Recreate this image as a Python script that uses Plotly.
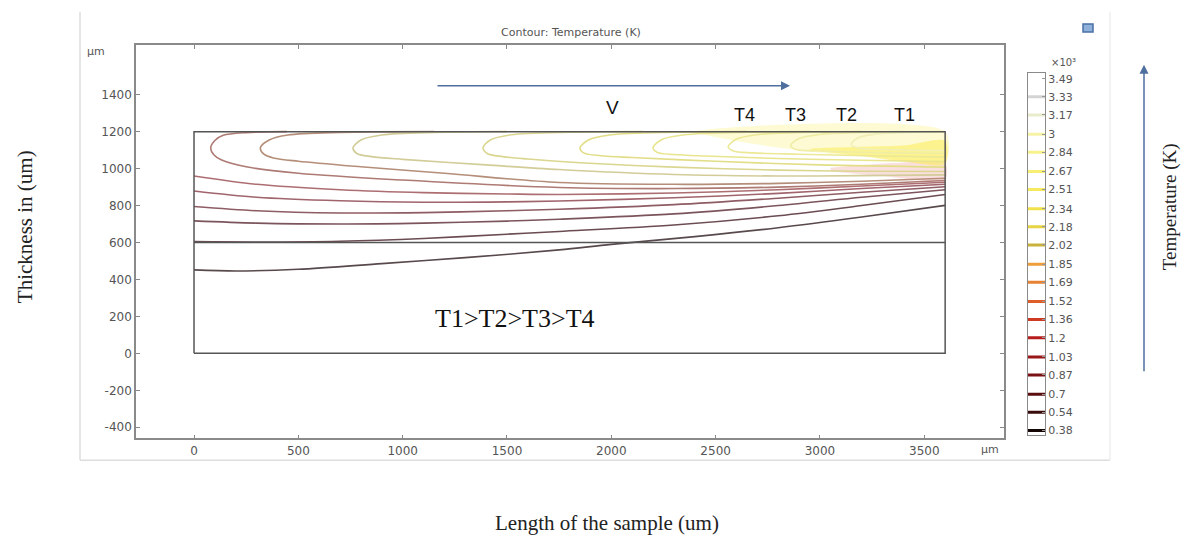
import plotly.graph_objects as go

W, H = 1188, 537

# ---------------- data ----------------
sample_length = 3600
sample_thickness = 1200
interface_y = 600

x_ticks = [0, 500, 1000, 1500, 2000, 2500, 3000, 3500]
y_ticks = [-400, -200, 0, 200, 400, 600, 800, 1000, 1200, 1400]
y_tick_text = ["-400", "-200", "0", "200", "400", "600", "800", "1000", "1200", "1400"]

levels = [0.38, 0.54, 0.7, 0.87, 1.03, 1.2, 1.36, 1.52, 1.69, 1.85,
          2.02, 2.18, 2.34, 2.51, 2.67, 2.84, 3.0, 3.17, 3.33, 3.49]
level_labels = ["0.38", "0.54", "0.7", "0.87", "1.03", "1.2", "1.36", "1.52", "1.69", "1.85",
                "2.02", "2.18", "2.34", "2.51", "2.67", "2.84", "3", "3.17", "3.33", "3.49"]
level_colors = ["#150606", "#3a0b0b", "#5a0e10", "#7a1215", "#9a1719", "#b81d1d", "#cf3a22",
                "#de5e2a", "#e78233", "#ee9f3a", "#c9b23c", "#e6d444", "#f1e24c", "#f5ea5e",
                "#f7ef74", "#f8f28c", "#f6f3a6", "#e9eccc", "#d4d4d4", "#ffffff"]

# contour lines (x in um, y in um)
o1_x = [0, 200, 500, 900, 1300, 1750, 2000, 2400, 2800, 3200, 3600]
o1_y = [452, 446, 455, 486, 518, 560, 590, 632, 680, 738, 801]
o2_x = [0, 300, 700, 1100, 1500, 1750, 2300, 2800, 3200, 3600]
o2_y = [605, 603, 607, 622, 645, 660, 695, 745, 800, 860]
o3_x = [0, 300, 700, 1100, 1500, 1750, 2300, 2800, 3200, 3600]
o3_y = [717, 705, 700, 705, 716, 726, 755, 800, 845, 886]
o4_x = [0, 300, 700, 1100, 1500, 1750, 2300, 2800, 3200, 3600]
o4_y = [795, 772, 760, 762, 772, 780, 805, 840, 872, 902]
o5_x = [0, 300, 700, 1100, 1500, 1750, 2300, 2800, 3200, 3600]
o5_y = [879, 845, 826, 818, 820, 825, 842, 866, 892, 915]
o6_x = [0, 300, 700, 1100, 1500, 1750, 2300, 2800, 3200, 3600]
o6_y = [960, 915, 886, 870, 863, 860, 868, 886, 906, 926]

c1_x = [445, 250, 140, 100, 80, 95, 130, 250, 500, 1000, 1750, 2300, 2800, 3200, 3600]
c1_y = [1200, 1195, 1180, 1152, 1112, 1075, 1048, 1010, 975, 938, 898, 892, 900, 915, 936]
c2_x = [1150, 700, 450, 360, 318, 335, 380, 500, 800, 1200, 1750, 2300, 2800, 3200, 3600]
c2_y = [1200, 1196, 1182, 1155, 1112, 1078, 1058, 1040, 1010, 975, 925, 915, 920, 932, 948]
c3_x = [1500, 1150, 900, 800, 762, 780, 850, 1000, 1400, 1750, 2300, 2800, 3200, 3600]
c3_y = [1200, 1196, 1182, 1155, 1112, 1082, 1065, 1050, 1020, 995, 968, 960, 962, 966]
c4_x = [2150, 1800, 1520, 1420, 1385, 1405, 1480, 1600, 1850, 2300, 2800, 3200, 3600]
c4_y = [1200, 1197, 1183, 1155, 1112, 1082, 1065, 1052, 1032, 1008, 992, 986, 984]
c5_x = [2650, 2300, 2000, 1890, 1850, 1870, 1950, 2100, 2500, 3000, 3600]
c5_y = [1200, 1197, 1183, 1155, 1112, 1084, 1070, 1060, 1040, 1020, 1008]
c6_x = [2950, 2650, 2350, 2240, 2200, 2220, 2300, 2450, 2800, 3200, 3600]
c6_y = [1200, 1197, 1183, 1156, 1113, 1088, 1076, 1068, 1055, 1045, 1038]
c7_x = [3200, 2950, 2700, 2600, 2560, 2585, 2680, 2900, 3300, 3600]
c7_y = [1200, 1197, 1184, 1160, 1118, 1095, 1085, 1078, 1068, 1062]
c8_x = [3400, 3200, 3000, 2900, 2860, 2885, 3000, 3300, 3600]
c8_y = [1200, 1196, 1185, 1163, 1125, 1103, 1095, 1086, 1082]
c9_x = [3600, 3450, 3260, 3180, 3150, 3180, 3350, 3600]
c9_y = [1200, 1197, 1186, 1166, 1132, 1112, 1102, 1098]

contour_x = [o1_x, o2_x, o3_x, o4_x, o5_x, o6_x, c1_x, c2_x, c3_x, c4_x, c5_x, c6_x, c7_x, c8_x, c9_x]
contour_y = [o1_y, o2_y, o3_y, o4_y, o5_y, o6_y, c1_y, c2_y, c3_y, c4_y, c5_y, c6_y, c7_y, c8_y, c9_y]
contour_level = [0.54, 0.7, 0.87, 1.03, 1.2, 1.36, 1.52, 1.69, 2.02, 2.34, 2.51, 2.67, 2.84, 3.0, 3.17]
contour_draw_color = ["#584a4c", "#6a4c52", "#7c545c", "#8e5c64", "#a0646c", "#ad6e72",
                      "#ad7a74", "#b58e7a", "#d2cc98", "#dad690", "#e2de88", "#e8e58e",
                      "#ece996", "#efeda6", "#f1efb6"]

# hot zone glow near the laser spot (outlines)
glow_pale_x = [2400, 2650, 2900, 3200, 3600, 3600, 2400]
glow_pale_y = [1200, 1140, 1100, 1065, 1040, 1200, 1200]
glow_yel_x = [2950, 3200, 3400, 3600, 3600, 3400, 3200, 2950]
glow_yel_y = [1105, 1068, 1040, 1025, 1150, 1125, 1118, 1105]
glow_pink_x = [3050, 3300, 3600, 3600, 3350, 3050]
glow_pink_y = [985, 960, 940, 1028, 1030, 1005]

# ---------------- layout geometry (pixels) ----------------
PL, PR, PT, PB = 136, 1004, 45, 440
XR = [-278, 3882]
YR = [-460, 1670]


def fx(px):
    return px / W


def fy(py):
    return 1 - py / H


fig = go.Figure()

# glow
for gx, gy, col, op in [(glow_pale_x, glow_pale_y, "#fbf6b0", 0.55),
                        (glow_pink_x, glow_pink_y, "#f4b8b8", 0.45),
                        (glow_yel_x, glow_yel_y, "#fbef60", 0.6)]:
    fig.add_trace(go.Scatter(x=gx, y=gy, fill="toself", fillcolor=col, opacity=op,
                             mode="none", line=dict(shape="spline", smoothing=0.8),
                             hoverinfo="skip", showlegend=False))

# contour lines
for cx, cy, col in zip(contour_x, contour_y, contour_draw_color):
    fig.add_trace(go.Scatter(x=cx, y=cy, mode="lines",
                             line=dict(color=col, width=1.6, shape="spline", smoothing=0.9),
                             hoverinfo="skip", showlegend=False))

# sample geometry
fig.add_trace(go.Scatter(x=[0, sample_length, sample_length, 0, 0],
                         y=[0, 0, sample_thickness, sample_thickness, 0],
                         mode="lines", line=dict(color="#555555", width=1.5),
                         hoverinfo="skip", showlegend=False))
fig.add_trace(go.Scatter(x=[0, sample_length], y=[interface_y, interface_y],
                         mode="lines", line=dict(color="#555555", width=1.5),
                         hoverinfo="skip", showlegend=False))

# colour legend (levels) on its own small axes
fig.add_trace(go.Scatter(x=[0.5] * len(levels), y=levels, mode="markers",
                         marker=dict(symbol="line-ew", size=13,
                                     line=dict(color=level_colors, width=3)),
                         xaxis="x2", yaxis="y2", hoverinfo="skip", showlegend=False))

tickfont = dict(family="DejaVu Sans", size=12, color="#555555")
fig.update_layout(
    width=W, height=H,
    margin=dict(l=0, r=0, t=0, b=0),
    paper_bgcolor="white", plot_bgcolor="white",
    xaxis=dict(domain=[fx(PL), fx(PR)], range=XR, tickvals=x_ticks,
               ticks="inside", ticklen=4, tickcolor="#888888",
               showline=True, linecolor="#8a8a8a", linewidth=1.5, mirror="ticks",
               showgrid=False, zeroline=False, tickfont=tickfont),
    yaxis=dict(domain=[fy(PB), fy(PT)], range=YR, tickvals=y_ticks, ticktext=y_tick_text,
               ticks="inside", ticklen=4, tickcolor="#888888",
               showline=True, linecolor="#8a8a8a", linewidth=1.5, mirror="ticks",
               showgrid=False, zeroline=False, tickfont=tickfont),
    xaxis2=dict(domain=[fx(1028), fx(1045)], range=[0, 1], showticklabels=False,
                showline=True, linecolor="#8a8a8a", linewidth=1.2, mirror=True,
                showgrid=False, zeroline=False, anchor="y2"),
    yaxis2=dict(domain=[fy(437), fy(73)], range=[0.336, 3.543], side="right",
                tickvals=levels, ticktext=level_labels, ticks="inside", ticklen=3,
                tickcolor="#999999",
                showline=True, linecolor="#8a8a8a", linewidth=1.2, mirror=True,
                showgrid=False, zeroline=False, anchor="x2",
                tickfont=dict(family="DejaVu Sans", size=11, color="#555555")),
)


def txt(text, px, py, size, family="DejaVu Sans", color="#555555", angle=0):
    return dict(text=text, x=fx(px), y=fy(py), xref="paper", yref="paper",
                xanchor="center", yanchor="middle", showarrow=False, textangle=angle,
                font=dict(family=family, size=size, color=color))


ann = [
    txt("Contour: Temperature (K)", 571, 33, 11),
    txt("µm", 96, 52, 11),
    txt("µm", 990, 451, 11),
    txt("×10³", 1063, 63, 10),
    txt("Thickness in (um)", 25, 228, 21, "Liberation Serif", "#222222", -90),
    txt("Length of the sample (um)", 607, 525, 21, "Liberation Serif", "#222222"),
    txt("Temperature (K)", 1170, 208, 19, "Liberation Serif", "#222222", -90),
    txt("T1>T2>T3>T4", 515, 320, 26, "Liberation Serif", "#111111"),
    txt("V", 612, 108, 19, "Liberation Sans", "#111111"),
]
for lab, px in [("T4", 745), ("T3", 795), ("T2", 847), ("T1", 904)]:
    ann.append(txt(lab, px, 115, 18, "Liberation Sans", "#111111"))
# arrows
ann.append(dict(text="", x=fx(790), y=fy(86), xref="paper", yref="paper",
                ax=436 - 790, ay=0, axref="pixel", ayref="pixel", showarrow=True,
                arrowhead=2, arrowsize=1.2, arrowwidth=1.5, arrowcolor="#4f6f9f"))
ann.append(dict(text="", x=fx(1144), y=fy(65), xref="paper", yref="paper",
                ax=0, ay=373 - 65, axref="pixel", ayref="pixel", showarrow=True,
                arrowhead=2, arrowsize=1.2, arrowwidth=1.5, arrowcolor="#4f6f9f"))
fig.update_layout(annotations=ann)

# COMSOL graphics window frame and small toolbar icon
shapes = [
    dict(type="line", xref="paper", yref="paper", x0=fx(80), x1=fx(80), y0=fy(12), y1=fy(462),
         line=dict(color="#dddddd", width=1.5)),
    dict(type="line", xref="paper", yref="paper", x0=fx(80), x1=fx(1110), y0=fy(462), y1=fy(462),
         line=dict(color="#dddddd", width=1.5)),
    dict(type="line", xref="paper", yref="paper", x0=fx(1110), x1=fx(1110), y0=fy(12), y1=fy(462),
         line=dict(color="#eeeeee", width=1.5)),
    dict(type="rect", xref="paper", yref="paper", x0=fx(1083), x1=fx(1093), y0=fy(32), y1=fy(24),
         line=dict(color="#4a6fa5", width=1.5), fillcolor="#8fb0d8"),
]
fig.update_layout(shapes=shapes)

fig.write_html("out.html")
